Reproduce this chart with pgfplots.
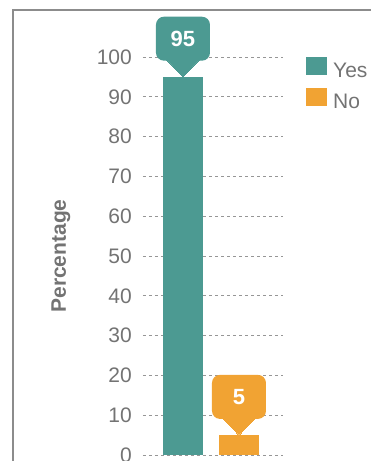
\documentclass[border=0pt]{standalone}
\usepackage{pgfplots}
\pgfplotsset{compat=1.18}
\usepackage{fontspec}
\setmainfont{Liberation Sans}
\definecolor{tealc}{RGB}{76,154,146}
\definecolor{orangec}{RGB}{241,163,51}
\definecolor{txtgray}{RGB}{115,115,115}
\definecolor{gridgray}{RGB}{150,150,150}
\definecolor{framegray}{RGB}{140,140,140}
\tikzset{calloutstyle/.style={rectangle, anchor=south, yshift=16pt, rounded corners=8pt,
     text=white, font=\fontsize{22}{25}\selectfont\bfseries,
     minimum width=54pt, minimum height=44pt, inner sep=0pt}}
\begin{document}
\begin{tikzpicture}
\useasboundingbox (0pt,0pt) rectangle (371pt,461pt);
\draw[framegray, line width=2pt] (420pt,451pt) -- (13pt,451pt) -- (13pt,-20pt);
\begin{axis}[
  at={(143pt,6pt)}, anchor=south west,
  scale only axis, width=140pt, height=398pt,
  xmin=-0.714, xmax=1.786, ymin=0, ymax=100,
  clip=false,
  axis line style={draw=none},
  major tick length=0pt,
  xtick=\empty,
  ytick={0,10,...,100},
  ymajorgrids,
  grid style={gridgray, line width=0.8pt, dash pattern=on 3pt off 3pt},
  /pgf/number format/assume math mode=true,
  yticklabel style={anchor=east, inner sep=0pt, xshift=-11pt, font=\fontsize{21}{24}\selectfont, text=txtgray},
  ylabel={Percentage},
  every axis y label/.style={at={(axis description cs:-0.586,0.5)}, rotate=90, anchor=center, font=\fontsize{21}{24}\selectfont\bfseries, text=txtgray},
  ybar, bar width=40pt, bar shift=0pt,
  legend style={at={(axis description cs:1.164,1.0)}, anchor=north west, draw=none, fill=none,
     font=\fontsize{21}{24}\selectfont, text=txtgray, row sep=9pt, inner sep=0pt,
     nodes={inner sep=0pt},
     /tikz/every odd column/.append style={column sep=6pt},
     /tikz/every even column/.append style={yshift=2pt}},
  legend cell align=left,
  legend image code/.code={\fill[#1,draw=none] (0pt,-2pt) rectangle (21pt,16pt);},
]
\addplot[fill=tealc, draw=none, nodes near coords,
   nodes near coords style={calloutstyle, fill=tealc}] coordinates {(0,95)};
\addplot[fill=orangec, draw=none, nodes near coords,
   nodes near coords style={calloutstyle, fill=orangec}] coordinates {(1,5)};
\legend{Yes,No}
\addplot[sharp plot, only marks, forget plot, color=tealc, mark=triangle*, mark size=22pt,
   mark options={draw=tealc, line width=0pt, fill=tealc, yshift=13.2pt, rotate=180, yscale=0.6}] coordinates {(0,95)};
\addplot[sharp plot, only marks, forget plot, color=orangec, mark=triangle*, mark size=22pt,
   mark options={draw=orangec, line width=0pt, fill=orangec, yshift=13.2pt, rotate=180, yscale=0.6}] coordinates {(1,5)};
\end{axis}
\end{tikzpicture}
\end{document}
